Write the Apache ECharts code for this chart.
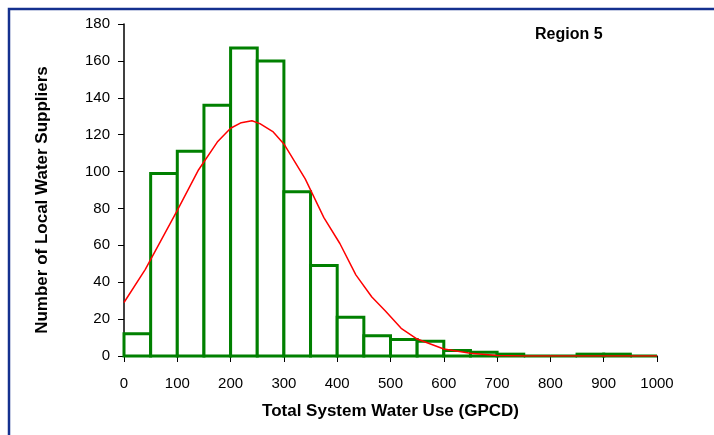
<!DOCTYPE html>
<html>
<head>
<meta charset="utf-8">
<style>
  html, body { margin: 0; padding: 0; background: #ffffff; }
  #chart { width: 714px; height: 435px; }
</style>
<script src="https://cdn.jsdelivr.net/npm/echarts@6/dist/echarts.min.js"></script>
</head>
<body>
<div id="chart"></div>
<script>
// Histogram bins (GPCD), lower edges, width 50
const binStarts = [0, 50, 100, 150, 200, 250, 300, 350, 400, 450, 500, 550, 600, 650, 700, 750, 800, 850, 900, 950];
const binWidth = 50;
// Number of suppliers in each bin
const counts = [12, 99, 111, 136, 167, 160, 89, 49, 21, 11, 9, 8, 3, 2, 1, 0, 0, 1, 1, 0];

// Fitted normal curve, sampled points
const curveX = [0, 40, 100, 140, 175, 200, 220, 240, 255, 280, 300, 340, 375, 405, 435, 465, 490, 520, 550, 600, 650, 700, 750, 800, 900, 1000];
const curveY = [29, 47, 79, 101, 116, 123.5, 126.5, 127.5, 126, 121.5, 115, 96, 75, 61, 44, 32, 24.5, 15, 9.2, 3.8, 1.5, 0.3, 0, 0, 0, 0];

// Axis ticks
const xTicks = [0, 100, 200, 300, 400, 500, 600, 700, 800, 900, 1000];
const yTicks = [0, 20, 40, 60, 80, 100, 120, 140, 160, 180];

const FONT = '"Liberation Sans", Arial, Helvetica, sans-serif';

const histData = binStarts.map((s, i) => [s, s + binWidth, counts[i]]);
const curveData = curveX.map((x, i) => [x, curveY[i]]);

const chart = echarts.init(document.getElementById('chart'), null, { renderer: 'canvas' });

chart.setOption({
  animation: false,
  backgroundColor: '#ffffff',
  grid: { left: 124, right: 57, top: 24, bottom: 79, containLabel: false },
  graphic: [
    {
      type: 'rect',
      shape: { x: 9, y: 9, width: 760, height: 480 },
      style: { fill: 'none', stroke: '#14308f', lineWidth: 2.5 },
      silent: true
    },
    {
      type: 'text',
      left: 535, top: 27,
      style: { text: 'Region 5', font: 'bold 16px ' + FONT, fill: '#000000' }
    },
    {
      type: 'text',
      x: 42, y: 200,
      rotation: Math.PI / 2,
      style: {
        text: 'Number of Local Water Suppliers',
        font: 'bold 17px ' + FONT, fill: '#000000',
        align: 'center', verticalAlign: 'middle'
      }
    }
  ],
  xAxis: {
    type: 'value',
    min: xTicks[0], max: xTicks[xTicks.length - 1], interval: 100,
    name: 'Total System Water Use (GPCD)',
    nameLocation: 'middle', nameGap: 47,
    nameTextStyle: { fontFamily: FONT, fontWeight: 'bold', fontSize: 17, color: '#000' },
    axisLine: { onZero: false, lineStyle: { color: '#000', width: 1.5 } },
    axisTick: { show: true, length: 6, inside: false, lineStyle: { color: '#000', width: 1 } },
    axisLabel: {
      margin: 20, fontFamily: FONT, fontSize: 15, color: '#000',
      formatter: function (v) { return String(v); }
    },
    splitLine: { show: false }
  },
  yAxis: {
    type: 'value',
    min: yTicks[0], max: yTicks[yTicks.length - 1], interval: 20,
    axisLine: { show: true, lineStyle: { color: '#000', width: 1.5 } },
    axisTick: { show: true, length: 6, inside: false, lineStyle: { color: '#000', width: 1 } },
    axisLabel: { margin: 14, fontFamily: FONT, fontSize: 15, color: '#000' },
    splitLine: { show: false }
  },
  series: [
    {
      type: 'custom',
      data: histData,
      encode: { x: [0, 1], y: 2 },
      renderItem: function (params, api) {
        const p0 = api.coord([api.value(0), api.value(2)]);
        const p1 = api.coord([api.value(1), 0]);
        return {
          type: 'rect',
          shape: { x: p0[0], y: p0[1], width: p1[0] - p0[0], height: p1[1] - p0[1] },
          style: { fill: '#ffffff', stroke: '#008000', lineWidth: 3 }
        };
      },
      z: 2
    },
    {
      type: 'line',
      data: curveData,
      showSymbol: false,
      symbol: 'none',
      smooth: false,
      lineStyle: { color: '#ff0000', width: 1.5 },
      z: 3
    }
  ]
});
</script>
</body>
</html>
